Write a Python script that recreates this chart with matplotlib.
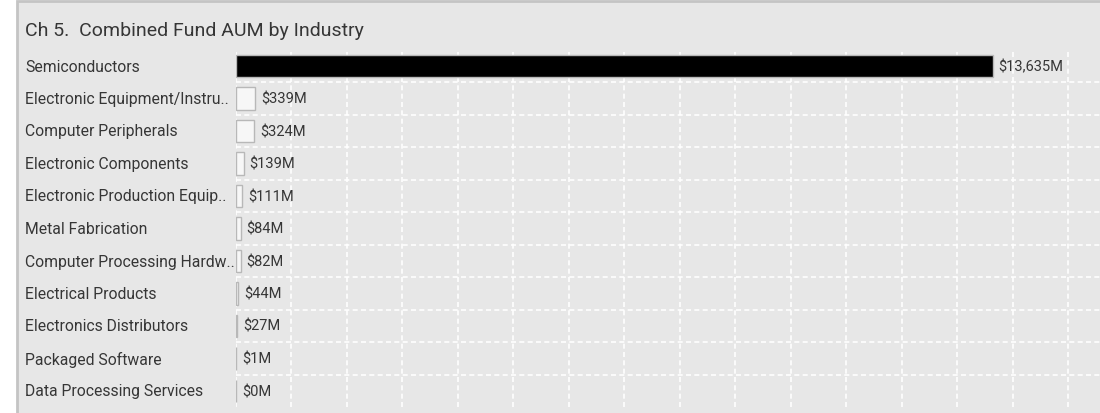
import numpy as np
import matplotlib
matplotlib.use('Agg')
import matplotlib.pyplot as plt
from matplotlib.patches import Rectangle

industries = ['Semiconductors', 'Electronic Equipment/Instru..', 'Computer Peripherals',
              'Electronic Components', 'Electronic Production Equip..', 'Metal Fabrication',
              'Computer Processing Hardw..', 'Electrical Products', 'Electronics Distributors',
              'Packaged Software', 'Data Processing Services']
aum = [13635, 339, 324, 139, 111, 84, 82, 44, 27, 1, 0]
value_labels = ['$13,635M', '$339M', '$324M', '$139M', '$111M', '$84M',
                '$82M', '$44M', '$27M', '$1M', '$0M']

plt.rcParams['font.family'] = ['Roboto', 'DejaVu Sans']
txt = '#363636'
panel = '#e7e7e7'

fig = plt.figure(figsize=(11, 4.14), dpi=100)
fig.patch.set_facecolor('white')
fig.patches.append(Rectangle((17/1100, -0.05), 1.1, 1.05 - 1.5/414, transform=fig.transFigure,
                             facecolor=panel, edgecolor='#c4c4c4', linewidth=2, zorder=-1))
fig.text(25/1100, 1 - 31/414, 'Ch 5.  Combined Fund AUM by Industry', fontsize=14,
         color=txt, va='center', ha='left')

ax = fig.add_axes([236/1100, 1 - 408.25/414, 864/1100, 357.5/414])
ax.set_zorder(1)
ax.set_facecolor(panel)
y = np.arange(len(industries))
colors = ['black'] + ['#f7f7f7'] * (len(industries) - 1)
ax.barh(y, aum, height=0.68, color=colors, edgecolor='#b8b8b8', linewidth=1, zorder=3)
for yi, v, lab in zip(y, aum, value_labels):
    ax.annotate(lab, (v, yi), xytext=(6, 0), textcoords='offset pixels',
                va='center', ha='left', fontsize=10.5, color=txt)

ax.set_xlim(0, 15570)
ax.set_ylim(len(industries) - 0.5, -0.5)
ax.set_xticks(np.arange(0, 15001, 1000))
ax.set_yticks(np.arange(0.5, len(industries) - 1, 1), minor=True)
ax.set_yticks([])
ax.grid(True, which='major', axis='x', color='white', linestyle=(0, (3, 2)), linewidth=1.2, zorder=1)
ax.grid(True, which='minor', axis='y', color='white', linestyle=(0, (3, 2)), linewidth=1.2, zorder=1)
ax.tick_params(which='both', length=0, labelbottom=False, labelleft=False)
for s in ax.spines.values():
    s.set_visible(False)

for yi, name in zip(y, industries):
    fig.text(25/1100, 1 - (67 + 32.5*yi)/414, name, fontsize=11.3, color=txt,
             va='center', ha='left')

fig.savefig('out.png', dpi=100)
